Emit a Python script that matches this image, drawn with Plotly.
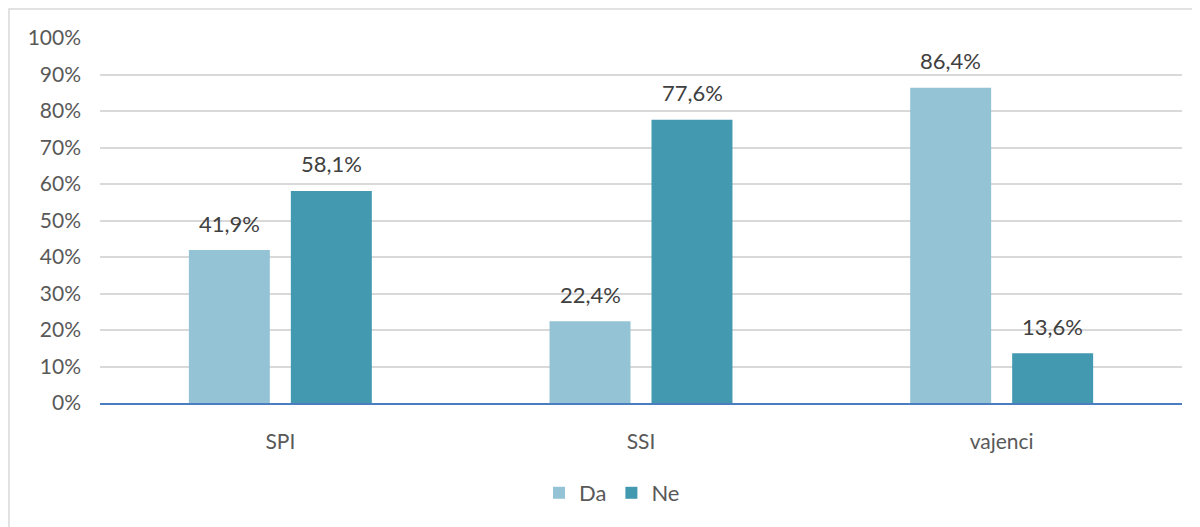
import plotly.graph_objects as go

categories = ["SPI", "SSI", "vajenci"]
da_values = [41.9, 22.4, 86.4]
ne_values = [58.1, 77.6, 13.6]
series_names = ["Da", "Ne"]
tick_vals = [0, 10, 20, 30, 40, 50, 60, 70, 80, 90, 100]
tick_text = [f"{v}%" for v in tick_vals]

colors = ["#93C3D4", "#4299B0"]
FONT = "Lato, Open Sans, sans-serif"

# page is rendered with an 8px body margin, so the figure is laid out in its own coords
W, H = 1192, 519
L, R, T, B = 92, 18, 30, 124
PW, PH = W - L - R, H - T - B

def fmt(v):
    return f"{v:.1f}".replace(".", ",") + "%"

fig = go.Figure()
for name, vals, col in zip(series_names, [da_values, ne_values], colors):
    fig.add_trace(go.Bar(
        x=categories, y=vals, name=name, marker=dict(color=col, line=dict(width=0)),
        hoverinfo="skip",
    ))

annotations = []
for vals, shift in zip([da_values, ne_values], [-51, 51]):
    for c, v in zip(categories, vals):
        annotations.append(dict(
            x=c, y=v, xref="x", yref="y", text=fmt(v), showarrow=False,
            xshift=shift, yshift=27, font=dict(family=FONT, size=22, color="#404040"),
        ))

fig.update_layout(
    width=W, height=H,
    margin=dict(l=L, r=R, t=T, b=B, autoexpand=False),
    paper_bgcolor="white", plot_bgcolor="white",
    barmode="group", bargap=0.4345, bargroupgap=0.206,
    showlegend=True,
    legend=dict(orientation="h", x=(612 - 100) / PW, xanchor="center",
                y=(395 - 485) / PH, yanchor="middle",
                font=dict(family=FONT, size=22, color="#595959"),
                traceorder="normal"),
    annotations=annotations,
    shapes=[dict(type="rect", xref="paper", yref="paper",
                 x0=(1 - L) / PW, x1=(W + 20 - L) / PW,
                 y0=(PH + T - H - 20) / PH, y1=(PH + T - 1) / PH,
                 line=dict(color="#D9D9D9", width=1.5), fillcolor="rgba(0,0,0,0)", layer="below")],
    font=dict(family=FONT),
)
fig.update_yaxes(range=[0, 100], tickvals=tick_vals, ticktext=tick_text,
                 showgrid=True, gridcolor="#D9D9D9", gridwidth=1.5,
                 tickfont=dict(family=FONT, size=21, color="#595959"),
                 zeroline=False, showline=False, ticks="", ticklabelstandoff=18,
                 automargin=False)
fig.update_xaxes(showline=True, linecolor="#4A7EC0", linewidth=1.5,
                 tickfont=dict(family=FONT, size=21, color="#595959"),
                 ticks="", ticklabelstandoff=19, automargin=False)

fig.write_html("out.html")
